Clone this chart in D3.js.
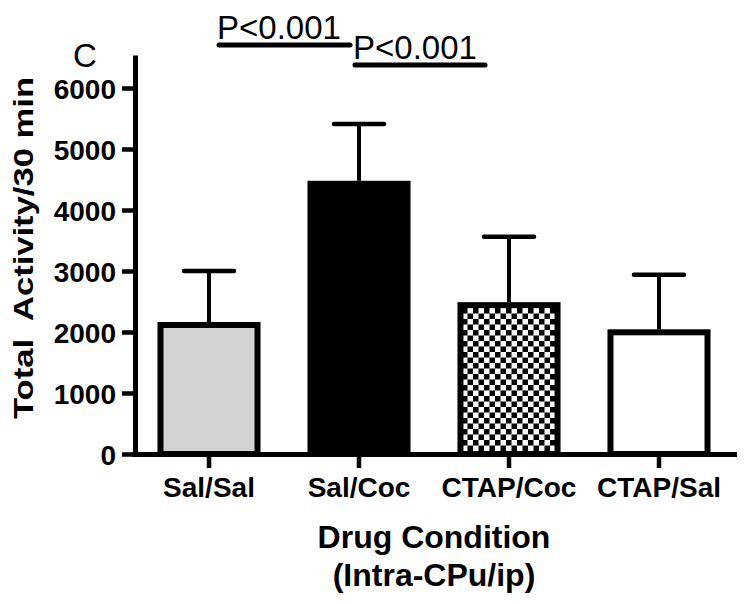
<!DOCTYPE html>
<html>
<head>
<meta charset="utf-8">
<script src="https://cdn.jsdelivr.net/npm/d3@7"></script>
<style>
  html, body { margin: 0; padding: 0; background: #fff; }
  svg { display: block; font-family: "Liberation Sans", Arial, Helvetica, sans-serif; }
</style>
</head>
<body>
<svg id="chart" width="750" height="604"></svg>
<script>
// ---- data ----
const categories = ["Sal/Sal", "Sal/Coc", "CTAP/Coc", "CTAP/Sal"];
const means = [2115, 4430, 2440, 1995];
const upperErrors = [3000, 5410, 3560, 2940];
const yTicks = [0, 1000, 2000, 3000, 4000, 5000, 6000];
const fills = ["#d3d3d3", "#000000", "url(#checker)", "#ffffff"];
const comparisons = [
  { from: "Sal/Sal", to: "Sal/Coc", label: "P<0.001" },
  { from: "Sal/Coc", to: "CTAP/Coc", label: "P<0.001" }
];

// ---- layout ----
const svg = d3.select("#chart");
const x = d3.scaleBand().domain(categories).range([134, 734]).paddingInner(0.353).paddingOuter(0.1765);
const y = d3.scaleLinear().domain([0, 6500]).range([454, 57.5]);

const defs = svg.append("defs");
const pat = defs.append("pattern").attr("id", "checker")
  .attr("patternUnits", "userSpaceOnUse").attr("width", 11).attr("height", 11);
pat.append("rect").attr("width", 11).attr("height", 11).attr("fill", "#fff");
pat.append("rect").attr("x", 0).attr("y", 0).attr("width", 5.5).attr("height", 5.5).attr("fill", "#000");
pat.append("rect").attr("x", 5.5).attr("y", 5.5).attr("width", 5.5).attr("height", 5.5).attr("fill", "#000");

// bars
const bw = x.bandwidth();
const cx = c => x(c) + bw / 2;
svg.append("g").selectAll("rect").data(categories).join("rect")
  .attr("x", d => x(d))
  .attr("width", bw)
  .attr("y", (d, i) => y(means[i]))
  .attr("height", (d, i) => y(0) - y(means[i]))
  .attr("fill", (d, i) => fills[i])
  .attr("stroke", "#000").attr("stroke-width", 6);

// error bars
const eg = svg.append("g");
eg.selectAll("line.v").data(categories).join("line").attr("class", "v")
  .attr("x1", d => cx(d)).attr("x2", d => cx(d))
  .attr("y1", (d, i) => y(means[i]) - 3).attr("y2", (d, i) => y(upperErrors[i]))
  .attr("stroke", "#000").attr("stroke-width", 4);
eg.selectAll("line.c").data(categories).join("line").attr("class", "c")
  .attr("x1", d => cx(d) - 25).attr("x2", d => cx(d) + 25)
  .attr("y1", (d, i) => y(upperErrors[i])).attr("y2", (d, i) => y(upperErrors[i]))
  .attr("stroke", "#000").attr("stroke-width", 4.5).attr("stroke-linecap", "round");

// axes
const yAxis = svg.append("g").attr("transform", "translate(135,0)")
  .call(d3.axisLeft(y).tickValues(yTicks).tickFormat(d3.format("d")).tickSizeInner(13).tickSizeOuter(0).tickPadding(6));
const xAxis = svg.append("g").attr("transform", "translate(0,454)")
  .call(d3.axisBottom(x).tickSizeInner(14).tickSizeOuter(0).tickPadding(9));

[yAxis, xAxis].forEach(g => {
  g.select(".domain").attr("stroke", "#000").attr("stroke-width", 5).attr("stroke-linecap", "square");
  g.selectAll(".tick line").attr("stroke", "#000").attr("stroke-width", 4.5);
  g.selectAll(".tick text").attr("fill", "#000")
    .attr("font-family", "'Liberation Sans', Arial, sans-serif")
    .attr("font-weight", "bold").attr("font-size", 28);
});
yAxis.selectAll(".tick text").attr("dy", "0.36em");
xAxis.selectAll(".tick text").attr("dy", "0.71em");

// axis titles
svg.append("text")
  .attr("transform", "translate(33,248) rotate(-90)")
  .attr("text-anchor", "middle")
  .attr("font-weight", "bold").attr("font-size", 28)
  .attr("textLength", 342).attr("lengthAdjust", "spacingAndGlyphs")
  .attr("xml:space", "preserve")
  .style("white-space", "pre")
  .text("Total  Activity/30 min");

const xt = svg.append("text").attr("text-anchor", "middle")
  .attr("font-weight", "bold").attr("font-size", 32);
xt.append("tspan").attr("x", 434).attr("y", 548).text("Drug Condition");
xt.append("tspan").attr("x", 434).attr("y", 586).text("(Intra-CPu/ip)");

// panel letter
svg.append("text").attr("x", 85).attr("y", 67).attr("text-anchor", "middle")
  .attr("font-size", 33).text("C");

// significance annotations
const annLayout = [
  { x1off: 8, x2off: -7, y: 45 },
  { x1off: -6, x2off: -22, y: 65 }
];
comparisons.forEach((c, i) => {
  const L = annLayout[i];
  const x1 = cx(c.from) + L.x1off, x2 = cx(c.to) + L.x2off;
  svg.append("line").attr("x1", x1 + 2).attr("x2", x2 - 2)
    .attr("y1", L.y).attr("y2", L.y)
    .attr("stroke", "#000").attr("stroke-width", 5).attr("stroke-linecap", "round");
  svg.append("text").attr("x", x1).attr("y", L.y - 6)
    .attr("font-size", 33).text(c.label);
});
</script>
</body>
</html>
